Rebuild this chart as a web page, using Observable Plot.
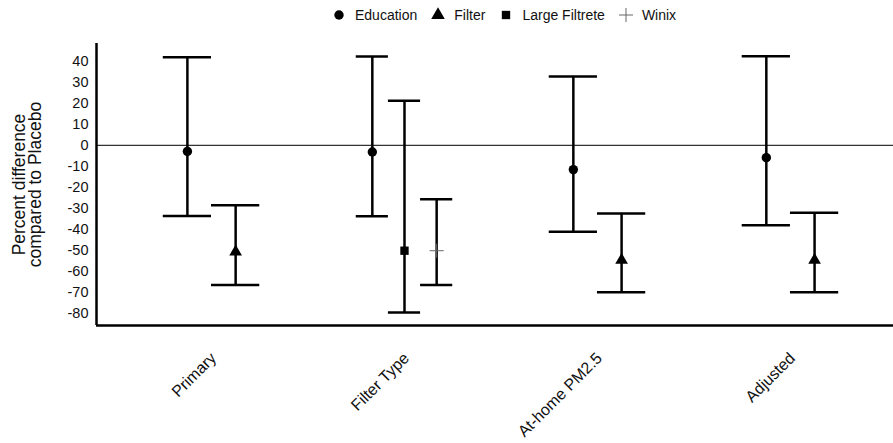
<!DOCTYPE html>
<html>
<head>
<meta charset="utf-8">
<script src="https://cdn.jsdelivr.net/npm/d3@7"></script>
<script src="https://cdn.jsdelivr.net/npm/@observablehq/plot@0.6"></script>
<style>
  html, body { margin: 0; padding: 0; background: #fff; }
  body { width: 893px; height: 443px; overflow: hidden; font-family: "Liberation Sans", Arial, sans-serif; }
  #legend { height: 30px; display: flex; align-items: center; padding-left: 332px; font-size: 14px; color: #111; box-sizing: border-box; }
  #legend .item { display: flex; align-items: center; margin-right: 14px; }
  #legend svg { margin-right: 9px; overflow: visible; }
  #chart svg { display: block; }
</style>
</head>
<body>
<div id="legend"></div>
<div id="chart"></div>
<script>
// ---- data ----
const categories = ["Primary", "Filter Type", "At-home PM2.5", "Adjusted"];
const seriesNames = ["Education", "Filter", "Large Filtrete", "Winix"];
const rowCategory = ["Primary", "Primary", "Filter Type", "Filter Type", "Filter Type", "At-home PM2.5", "At-home PM2.5", "Adjusted", "Adjusted"];
const rowSeries = ["Education", "Filter", "Education", "Large Filtrete", "Winix", "Education", "Filter", "Education", "Filter"];
const estimates = [-2.9, -50.8, -3.2, -50.3, -50.3, -11.6, -54.8, -5.9, -54.8];
const lowers = [-33.7, -66.7, -33.8, -79.8, -66.7, -41.3, -70.1, -38.1, -70.1];
const uppers = [42.0, -28.6, 42.4, 21.3, -25.7, 32.9, -32.5, 42.5, -32.2];
const yTicks = [-80, -70, -60, -50, -40, -30, -20, -10, 0, 10, 20, 30, 40];

// ---- build table: dodge series within each category group ----
const groupWidth = 0.5;
const rows = rowCategory.map((c, i) => {
  const members = rowSeries.filter((s, j) => rowCategory[j] === c);
  const k = members.length;
  const j = members.indexOf(rowSeries[i]);
  const w = groupWidth / k;
  const pos = categories.indexOf(c) + (j - (k - 1) / 2) * w;
  return {category: c, series: rowSeries[i], est: estimates[i], lo: lowers[i], hi: uppers[i], pos, x1: pos - w / 2, x2: pos + w / 2};
});

const symbolRange = ["circle", "triangle", "square", "plus"];
const yDomain = [-86, 48.6];
const xDomain = [-0.596, 3.534];

const plot = Plot.plot({
  width: 893,
  height: 413,
  marginLeft: 96,
  marginRight: 0,
  marginTop: 13,
  marginBottom: 118,
  style: {fontFamily: "'Liberation Sans', Arial, sans-serif", fontSize: "14px", color: "#111", background: "#fff"},
  x: {domain: xDomain, label: null},
  y: {domain: yDomain, label: null},
  symbol: {domain: seriesNames, range: symbolRange},
  marks: [
    Plot.axisY({ticks: yTicks, tickFormat: d => String(d), tickSize: 0, tickPadding: 8, fontSize: 14.5, label: null}),
    Plot.axisX({ticks: [0, 1, 2, 3], tickFormat: i => categories[i], tickRotate: -45, tickSize: 0, tickPadding: 30, dx: 2, fontSize: 16, label: null}),
    Plot.ruleY([0], {stroke: "#333", strokeWidth: 1.2}),
    Plot.ruleX(rows, {x: "pos", y1: "lo", y2: "hi", stroke: "#000", strokeWidth: 2.5}),
    Plot.ruleY(rows, {y: "lo", x1: "x1", x2: "x2", stroke: "#000", strokeWidth: 2.5}),
    Plot.ruleY(rows, {y: "hi", x1: "x1", x2: "x2", stroke: "#000", strokeWidth: 2.5}),
    Plot.dot(rows.filter(d => d.series !== "Winix"), {x: "pos", y: "est", symbol: "series", fill: "#000", stroke: "none", r: 4.7}),
    Plot.dot(rows.filter(d => d.series === "Winix"), {x: "pos", y: "est", symbol: "series", fill: "none", stroke: "#666", strokeWidth: 1, r: 4.6}),
    Plot.ruleX([xDomain[0]], {stroke: "#000", strokeWidth: 2.5}),
    Plot.ruleY([yDomain[0]], {stroke: "#000", strokeWidth: 2.5}),
    Plot.text(["Percent difference\ncompared to Placebo"], {frameAnchor: "left", textAnchor: "middle", rotate: -90, dx: -69, lineHeight: 0.95, fontSize: 17.5, fill: "#111"})
  ]
});
document.getElementById("chart").appendChild(plot);

// ---- legend ----
const legend = d3.select("#legend");
const symbolMap = {circle: d3.symbolCircle, triangle: d3.symbolTriangle, square: d3.symbolSquare, plus: d3.symbolPlus};
seriesNames.forEach((name, i) => {
  const item = legend.append("div").attr("class", "item");
  const svg = item.append("svg").attr("width", 14).attr("height", 14).attr("viewBox", "-7 -7 14 14");
  const key = symbolRange[i];
  if (key === "plus") {
    svg.append("path").attr("d", d3.symbol(symbolMap[key], 66)()).attr("fill", "none").attr("stroke", "#666").attr("stroke-width", 1);
  } else {
    svg.append("path").attr("d", d3.symbol(symbolMap[key], key === "triangle" ? 80 : 70)()).attr("fill", "#000");
  }
  item.append("span").text(name);
});
</script>
</body>
</html>
